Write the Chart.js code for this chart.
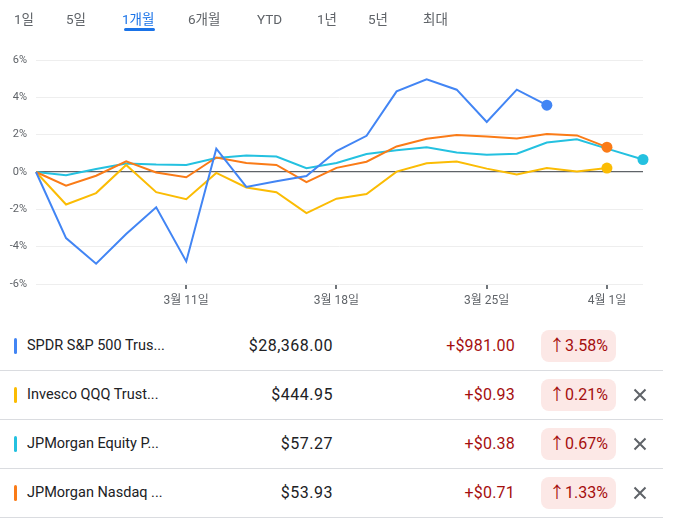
<!DOCTYPE html>
<html><head><meta charset="utf-8">
<script src="https://cdn.jsdelivr.net/npm/chart.js@4/dist/chart.umd.min.js"></script>
<style>
html,body{margin:0;padding:0;background:#fff;width:679px;height:528px;overflow:hidden;font-family:Roboto,"Noto Sans CJK KR",sans-serif;}
#wrap{position:relative;width:679px;height:528px;}
canvas#c{position:absolute;left:0;top:0;}
.tab{position:absolute;top:10px;font-size:13.5px;color:#5f6368;line-height:18px;white-space:nowrap;}
.tab.on{color:#1a73e8;}
.uline{position:absolute;top:28px;height:3px;background:#1a73e8;border-radius:2px;}
.row{position:absolute;left:0;width:663px;height:48px;border-bottom:1px solid #dadce0;}
.bar{position:absolute;left:14px;top:16px;width:3px;height:16px;border-radius:2px;}
.name{position:absolute;left:27px;top:0;line-height:48px;font-size:14.5px;color:#202124;white-space:nowrap;}
.price{position:absolute;right:330px;top:0;line-height:48px;font-size:16px;font-weight:400;letter-spacing:0.5px;color:#202124;}
.chg{position:absolute;right:148px;top:0;line-height:48px;font-size:16px;font-weight:400;letter-spacing:0.2px;color:#a50e0e;}
.badge{position:absolute;right:47px;top:8px;height:32px;line-height:32px;padding:0 8px;border-radius:8px;background:#fce8e6;font-size:16px;font-weight:400;color:#a50e0e;white-space:nowrap;}
.x{position:absolute;left:633px;top:17px;width:14px;height:14px;}
</style></head>
<body><div id="wrap">
<canvas id="c" width="679" height="320"></canvas>
<div id="tabs"></div>
<div id="table"></div>
</div>
<script>
// ---- data ----
const tabs = ['1일','5일','1개월','6개월','YTD','1년','5년','최대'];
const activeTab = '1개월';
const dates = ['3월 4일','3월 5일','3월 6일','3월 7일','3월 8일','3월 11일','3월 12일','3월 13일','3월 14일','3월 15일','3월 18일','3월 19일','3월 20일','3월 21일','3월 22일','3월 25일','3월 26일','3월 27일','3월 28일','4월 1일','4월 2일'];
// session position of each date on the axis (trading days; 4월 2일 = latest intraday)
const sessionPos = [0,1,2,3,4,5,6,7,8,9,10,11,12,13,14,15,16,17,18,19,20.2];
const tickDates = ['3월 11일','3월 18일','3월 25일','4월 1일'];
const yTicks = [-6,-4,-2,0,2,4,6];

const spdr = [0,-3.54,-4.91,-3.32,-1.89,-4.79,1.25,-0.80,-0.50,-0.22,1.12,1.94,4.32,4.96,4.41,2.68,4.41,3.58];
const qqq  = [0,-1.74,-1.13,0.38,-1.08,-1.46,-0.05,-0.83,-1.08,-2.20,-1.43,-1.18,0.02,0.47,0.56,0.18,-0.13,0.21,0.03,0.21];
const jepi = [0,-0.17,0.16,0.46,0.40,0.38,0.75,0.88,0.83,0.20,0.48,0.96,1.16,1.32,1.05,0.93,0.98,1.58,1.75,1.25,0.67];
const jepq = [0,-0.73,-0.20,0.57,-0.03,-0.28,0.78,0.48,0.38,-0.54,0.22,0.55,1.37,1.78,1.98,1.90,1.80,2.04,1.96,1.33];

const names  = ['SPDR S&P 500 Trus...','Invesco QQQ Trust...','JPMorgan Equity P...','JPMorgan Nasdaq ...'];
const prices = ['$28,368.00','$444.95','$57.27','$53.93'];
const changes= ['+$981.00','+$0.93','+$0.38','+$0.71'];
const pcts   = ['3.58%','0.21%','0.67%','1.33%'];
const removable = [false,true,true,true];
const colors = ['#4285f4','#fbbc04','#24c1e0','#fa7b17'];

// ---- tabs ----
const tabLeft = [14,66,122,188,257,317,368,423];
const tabsEl = document.getElementById('tabs');
tabs.forEach((t,i)=>{
  const d=document.createElement('div');
  d.className='tab'+(t===activeTab?' on':'');
  d.style.left=tabLeft[i]+'px';
  d.textContent=t;
  tabsEl.appendChild(d);
  if(t===activeTab){
    const u=document.createElement('div');
    u.className='uline';
    u.style.left=(tabLeft[i]+2)+'px';
    u.style.width='31px';
    tabsEl.appendChild(u);
  }
});

// ---- table ----
const tbl=document.getElementById('table');
const xsvg='<svg class="x" viewBox="0 0 14 14"><path d="M1.5 1.5L12.5 12.5M12.5 1.5L1.5 12.5" stroke="#5f6368" stroke-width="2" fill="none"/></svg>';
names.forEach((n,i)=>{
  const r=document.createElement('div');
  r.className='row';
  r.style.top=(322+i*49)+'px';
  r.innerHTML='<div class="bar" style="background:'+colors[i]+'"></div>'+
    '<div class="name"></div><div class="price"></div><div class="chg"></div>'+
    '<div class="badge"></div>'+(removable[i]?xsvg:'');
  r.querySelector('.name').textContent=n;
  r.querySelector('.price').textContent=prices[i];
  r.querySelector('.chg').textContent=changes[i];
  r.querySelector('.badge').textContent='↑'+pcts[i];
  tbl.appendChild(r);
});

// ---- chart ----
function series(vals,color){
  return {
    data: vals.map((v,i)=>({x:sessionPos[i],y:v})),
    borderColor: color, backgroundColor: color,
    borderWidth: 2, tension: 0, clip: false,
    pointRadius: ctx => ctx.dataIndex===vals.length-1 ? 5.5 : 0,
    pointBackgroundColor: color, pointBorderWidth: 0, pointHoverRadius: 0
  };
}
const tickPos = tickDates.map(d=>sessionPos[dates.indexOf(d)]);
new Chart(document.getElementById('c'),{
  type:'line',
  data:{datasets:[series(spdr,colors[0]),series(jepq,colors[3]),series(qqq,colors[1]),series(jepi,colors[2])]},
  options:{
    responsive:false, animation:false, devicePixelRatio:1,
    events:[],
    layout:{padding:{top:60,right:36,left:0,bottom:0}},
    plugins:{legend:{display:false},tooltip:{enabled:false}},
    scales:{
      x:{type:'linear',min:0,max:sessionPos[sessionPos.length-1],
        afterFit:s=>{s.height=36;},
        afterBuildTicks:s=>{s.ticks=tickPos.map(v=>({value:v}));},
        border:{display:false},
        grid:{drawOnChartArea:false,drawTicks:true,tickLength:5,color:'#70757a',lineWidth:2},
        ticks:{autoSkip:false,maxRotation:0,padding:5,color:'#5f6368',
          font:{family:'Roboto, "Noto Sans CJK KR"',size:12},
          callback:(v,i)=>tickDates[i]}
      },
      y:{min:-6,max:6,
        afterFit:s=>{s.width=36;},
        afterBuildTicks:s=>{s.ticks=yTicks.map(v=>({value:v}));},
        border:{display:false},
        grid:{drawTicks:false,color:c=>c.tick&&c.tick.value===0?'#5f6368':'#eeeeee',lineWidth:c=>c.tick&&c.tick.value===0?1.2:1},
        ticks:{padding:9,color:'#5f6368',font:{family:'Roboto, "Noto Sans CJK KR"',size:11},callback:v=>v+'%'}
      }
    }
  }
});
</script>
</body></html>
